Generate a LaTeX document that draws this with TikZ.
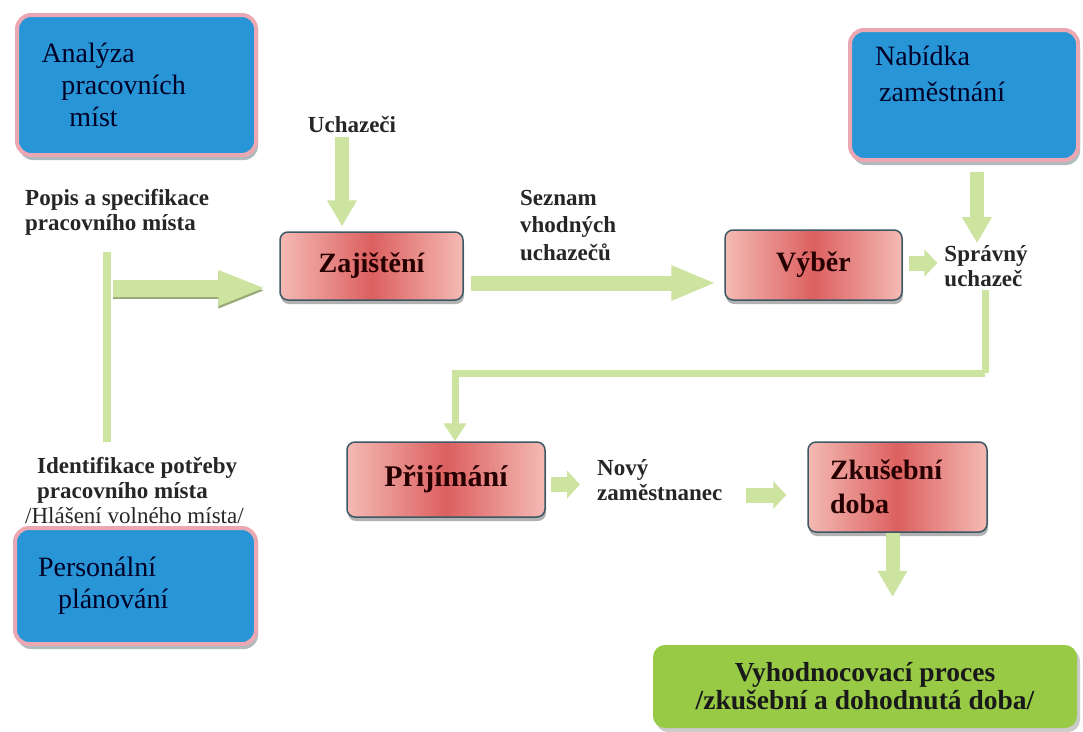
\documentclass[tikz,border=0pt]{standalone}
\usepackage{fontspec}
\setmainfont{Liberation Serif}
\usetikzlibrary{arrows.meta,positioning,shadows}

\definecolor{planblue}{RGB}{40,150,214}
\definecolor{planpink}{RGB}{236,168,178}
\definecolor{stepred}{RGB}{220,96,96}
\definecolor{steplight}{RGB}{244,186,180}
\definecolor{stepedge}{RGB}{60,88,100}
\definecolor{arrowgreen}{RGB}{204,228,160}
\definecolor{evalgreen}{RGB}{152,202,70}

\newcommand\boxfont{\fontsize{28}{32}\selectfont}
\newcommand\lblfont{\fontsize{23}{25}\selectfont\bfseries}
\newcommand\stepfont{\fontsize{28}{34}\selectfont\bfseries}
\newcommand\evalfont{\fontsize{27.5}{28}\selectfont\bfseries}

\tikzset{
  bluebox/.style={draw=planpink, line width=4pt, fill=planblue, rounded corners=14pt,
    text=black!85!blue, align=left, font=\boxfont,
    drop shadow={shadow xshift=2pt, shadow yshift=-5pt, fill=stepedge!80}},
  boxtext/.style={text=black!85!blue, align=left, font=\boxfont, inner sep=0pt},
  stepbox/.style={draw=stepedge, line width=1.5pt, rounded corners=8pt,
    left color=steplight, right color=steplight, middle color=stepred,
    text=black!85!red, font=\stepfont,
    drop shadow={shadow xshift=1pt, shadow yshift=-4pt, fill=black!60}},
  evalbox/.style={fill=evalgreen, rounded corners=12pt, align=center, font=\evalfont,
    text=black!90, drop shadow={shadow xshift=3pt, shadow yshift=-4pt, fill=black!40}},
  lbl/.style={align=left, font=\lblfont, text=black!85, inner sep=0pt},
  flowarrow/.style={draw=arrowgreen, line width=15pt, -{Triangle[length=45pt,width=32pt]}},
  wideshadow/.style={draw=black!25!arrowgreen, line width=17pt, -{Triangle[length=48pt,width=32pt]}},
  widearrow/.style={draw=arrowgreen, line width=17pt, -{Triangle[length=48pt,width=32pt]}},
  smallarrow/.style={draw=arrowgreen, line width=15pt, -{Triangle[length=13pt,width=27pt]}},
  downarrow/.style={draw=arrowgreen, line width=14pt, -{Triangle[length=26pt,width=28pt]}},
  flowline/.style={draw=arrowgreen, line width=7pt},
  turnarrow/.style={draw=arrowgreen, line width=7pt, -{Triangle[length=18pt,width=22pt]}}
}

\begin{document}
\begin{tikzpicture}[x=1pt,y=-1pt]
\fill[white] (0,0) rectangle (1083,731);
\useasboundingbox (0,0) rectangle (1083,731);

% blue boxes
\node[bluebox, minimum width=239pt, minimum height=140pt, text width=190pt] (analyza) at (136.5,85)
  {Analýza\\\hspace{20pt}pracovních\\\hspace{28pt}míst};
\node[bluebox, minimum width=228pt, minimum height=130pt] (nabidka) at (964,95) {};
\node[boxtext, anchor=north west] (nabidkatext) at (875,46) {Nabídka\\[4pt]\hspace{4pt}zaměstnání};
\node[bluebox, minimum width=241pt, minimum height=116pt, text width=195pt] (planovani) at (135.5,586)
  {Personální\\\hspace{20pt}plánování};

% red steps
\node[stepbox, minimum width=183pt, minimum height=68pt] (zajisteni) at (371.5,266) {Zajištění};
\node[stepbox, minimum width=177pt, minimum height=70pt] (vyber) at (813.5,265) {Výběr};
\node[stepbox, minimum width=198pt, minimum height=75pt, font=\fontsize{30}{34}\selectfont\bfseries] (prijimani) at (446,479.5) {Přijímání};
\node[stepbox, minimum width=179pt, minimum height=90pt, text width=135pt, align=left] (zkusebni) at (897.5,487)
  {Zkušební\\doba};

% final box
\node[evalbox, minimum width=424pt, minimum height=83pt] (vyhodnoceni) at (865,686.5)
  {Vyhodnocovací proces\\/zkušební a dohodnutá doba/};

% labels
\node[lbl, anchor=west] (popis) at (25,212.5) {Popis a specifikace\\pracovního místa};
\node[lbl] (uchazeci) at (352,125) {Uchazeči};
\node[lbl, anchor=west, font=\fontsize{23}{27.5}\selectfont\bfseries] (seznam) at (520,225.5) {Seznam\\vhodných\\uchazečů};
\node[lbl] (spravny) at (986,266) {Správný\\uchazeč};
\node[lbl, anchor=west] (novy) at (597,480) {Nový\\zaměstnanec};
\node[lbl, anchor=west] (identifikace) at (25,490)
  {\hspace{12pt}Identifikace potřeby\\\hspace{12pt}pracovního místa\\{\mdseries /Hlášení volného místa/}};

% left bar and double arrow
\coordinate (vtop) at (107,252);
\coordinate (vbot) at (107,442);
\coordinate (vjoin) at (113,288);
\draw[flowline, line width=8pt] (vtop) -- (vbot);
\draw[wideshadow, shorten >=13pt] ([yshift=-2.5pt]vjoin) -- ([yshift=-2.5pt]vjoin -| zajisteni.west);
\draw[widearrow, shorten >=13pt] (vjoin) -- (vjoin -| zajisteni.west);

% connectors
\draw[downarrow, shorten <=4pt, shorten >=5pt] ([xshift=-10pt]uchazeci.south) -- ([xshift=-10pt]uchazeci.south |- zajisteni.north);
\draw[flowarrow, shorten <=7pt, shorten >=8pt] ([yshift=-17pt]zajisteni.east) -- ([yshift=-17pt]zajisteni.east -| vyber.west);
\draw[smallarrow, shorten <=6pt, shorten >=7pt] ([yshift=2pt]vyber.east) -- ([yshift=2pt]vyber.east -| spravny.west);
\draw[downarrow, shorten <=10pt, shorten >=2pt] ([xshift=13pt]nabidka.south) -- ([xshift=13pt]nabidka.south |- spravny.north);
\coordinate (turn) at (985,373);
\draw[flowline] ([yshift=-3pt]spravny.south -| turn) -- (turn);
\draw[turnarrow] (turn) -| ([xshift=9pt]prijimani.north);
\draw[smallarrow, shorten <=5pt, shorten >=17pt] ([yshift=-5pt]prijimani.east) -- ([yshift=-5pt]prijimani.east -| novy.west);
\draw[smallarrow, shorten <=23pt, shorten >=21pt] ([yshift=-15pt]novy.east) -- ([yshift=-15pt]novy.east -| zkusebni.west);
\draw[downarrow, shorten >=48pt] ([xshift=-5pt]zkusebni.south) -- ([xshift=-5pt]zkusebni.south |- vyhodnoceni.north);
\end{tikzpicture}
\end{document}
